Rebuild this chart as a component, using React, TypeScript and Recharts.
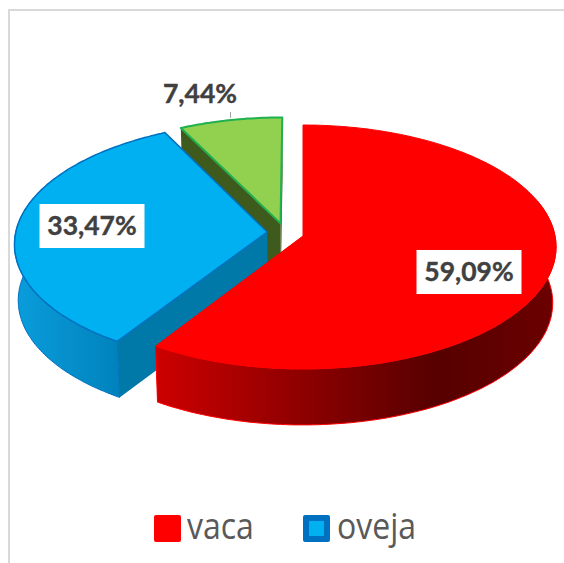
import { PieChart, Pie, Legend } from "recharts";

// drawn back to front, so the order is green, blue, red (counter-clockwise from the top)
const NAMES = ["otro", "oveja", "vaca"];
const VALUES = [7.44, 33.47, 59.09];
const LEGEND_NAMES = ["vaca", "oveja"];

const data = NAMES.map((name, i) => ({ name, value: VALUES[i] }));

const TILT = 0.48;
const PERSP = 0.09;
const DEPTH = 56;
const RAD = Math.PI / 180;

const LOOK: Record<string, any> = {
  vaca: {
    top: "#ff0000", stroke: "#ff0000", strokeWidth: 1, cut: "#8a0000", du: 0, dv: 0, size: 1,
    wall: [["0", "#cc0000"], ["0.3", "#980000"], ["0.7", "#560000"], ["1", "#6c0000"]],
    wallX: [158, 557], labelX: 469, labelY: 272,
  },
  oveja: {
    top: "#00b0f0", stroke: "#0070c0", strokeWidth: 1.5, cut: "#0079a8", du: -0.143, dv: -0.033, size: 1,
    wall: [["0", "#0a9ddc"], ["1", "#0082bc"]],
    wallX: [14, 120], labelX: 92, labelY: 226,
  },
  otro: {
    top: "#92d050", stroke: "#1fb050", strokeWidth: 2, cut: "#3f5a1d", du: -0.09, dv: -0.105, size: 0.97,
    wall: [["0", "#3f5a1d"], ["1", "#3f5a1d"]],
    wallX: [180, 282], labelX: 200, labelY: 94,
  },
};

function SliceShape(props: any) {
  const { cx, cy, outerRadius, startAngle, endAngle } = props;
  const name = props.payload?.name ?? props.name;
  const look = LOOK[name];

  const project = (angle: number, r: number) => {
    const u = look.du + Math.cos(angle * RAD) * r * look.size;
    const v = look.dv - Math.sin(angle * RAD) * r * look.size;
    const w = 1 - PERSP * v;
    return [cx + (outerRadius * u) / w, cy + (outerRadius * TILT * v) / w];
  };
  const lower = (p: number[]) => [cx + (p[0] - cx) * 0.987, p[1] + DEPTH];
  const toPath = (pts: number[][]) =>
    "M" + pts.map((p) => `${p[0].toFixed(1)},${p[1].toFixed(1)}`).join("L") + "Z";

  const arc: number[] = [];
  for (let a = startAngle; a < endAngle; a += 1) arc.push(a);
  arc.push(endAngle);

  const apex = project(0, 0);
  const topPts = [apex, ...arc.map((a) => project(a, 1))];

  // the rim shows on the front half, a bit further round because of the perspective
  const front = arc.filter((a) => Math.sin(a * RAD) < 0.3);
  const rimTop = front.map((a) => project(a, 1));
  const wallPts = [...rimTop, ...rimTop.map(lower).reverse()];

  const cutFace = (angle: number) => {
    const p = project(angle, 1);
    return [apex, p, lower(p), lower(apex)];
  };
  const gradId = `wall-${name}`;

  return (
    <g>
      <defs>
        <linearGradient id={gradId} gradientUnits="userSpaceOnUse"
          x1={look.wallX[0]} y1={0} x2={look.wallX[1]} y2={0}>
          {look.wall.map((s: string[]) => (
            <stop key={s[0]} offset={s[0]} stopColor={s[1]} />
          ))}
        </linearGradient>
      </defs>
      <path d={toPath(cutFace(startAngle))} fill={look.cut} />
      <path d={toPath(cutFace(endAngle))} fill={look.cut} />
      {wallPts.length > 0 && (
        <path d={toPath(wallPts)} fill={`url(#${gradId})`} stroke={look.stroke} strokeWidth={1} />
      )}
      <path d={toPath(topPts)} fill={look.top} stroke={look.stroke}
        strokeWidth={look.strokeWidth} strokeLinejoin="round" />
    </g>
  );
}

function SliceLabel(props: any) {
  const look = LOOK[props.name ?? props.payload?.name];
  const text = props.value.toFixed(2).replace(".", ",") + "%";
  const { labelX: x, labelY: y } = look;
  return (
    <g>
      <rect x={x - 52.5} y={y - 22} width={105} height={44} fill="#ffffff" />
      <text x={x} y={y + 9} textAnchor="middle" fontFamily="Lato" fontWeight={700}
        fontSize={26.5} fill="#404040" stroke="#404040" strokeWidth={0.4}>
        {text}
      </text>
    </g>
  );
}

function ChartLegend() {
  return (
    <div style={{ position: "relative", width: 564, height: 60, fontFamily: "'Open Sans'", fontSize: 32, color: "#595959" }}>
      {LEGEND_NAMES.map((name, i) => (
        <div key={name}>
          <div style={{
            position: "absolute", left: i === 0 ? 154 : 303, top: 0, width: 27, height: 27,
            boxSizing: "border-box", borderRadius: 2, background: LOOK[name].top,
            border: `6px solid ${LOOK[name].strokeWidth > 1 ? LOOK[name].stroke : LOOK[name].top}`,
          }} />
          <div style={{
            position: "absolute", left: i === 0 ? 187 : 337, top: -10, lineHeight: "44px",
            transform: "scaleY(1.12)", transformOrigin: "0 34px",
          }}>
            {name}
          </div>
        </div>
      ))}
    </div>
  );
}

export default function App() {
  return (
    <div style={{ position: "absolute", left: 0, top: 0, width: 564, height: 563, background: "#fff", overflow: "hidden" }}>
      <div style={{
        position: "absolute", left: 8, top: 9, width: 600, height: 600,
        borderLeft: "2px solid #d9d9d9", borderTop: "2px solid #d9d9d9",
      }} />
      <div style={{ position: "absolute", left: 0, top: 0 }}>
        <PieChart width={564} height={563} margin={{ top: 0, right: 0, bottom: 0, left: 0 }}>
          <Pie
            data={data}
            dataKey="value"
            nameKey="name"
            cx={303}
            cy={236}
            innerRadius={0}
            outerRadius={252}
            startAngle={90}
            endAngle={450}
            stroke="none"
            isAnimationActive={false}
            shape={SliceShape}
            label={SliceLabel}
            labelLine={false}
          />
          <Legend
            content={ChartLegend}
            wrapperStyle={{ position: "absolute", left: 0, top: 515, width: 564 }}
          />
        </PieChart>
      </div>
      <div style={{ position: "absolute", left: 229.5, top: 112, width: 1, height: 6, background: "#a6a6a6" }} />
    </div>
  );
}
